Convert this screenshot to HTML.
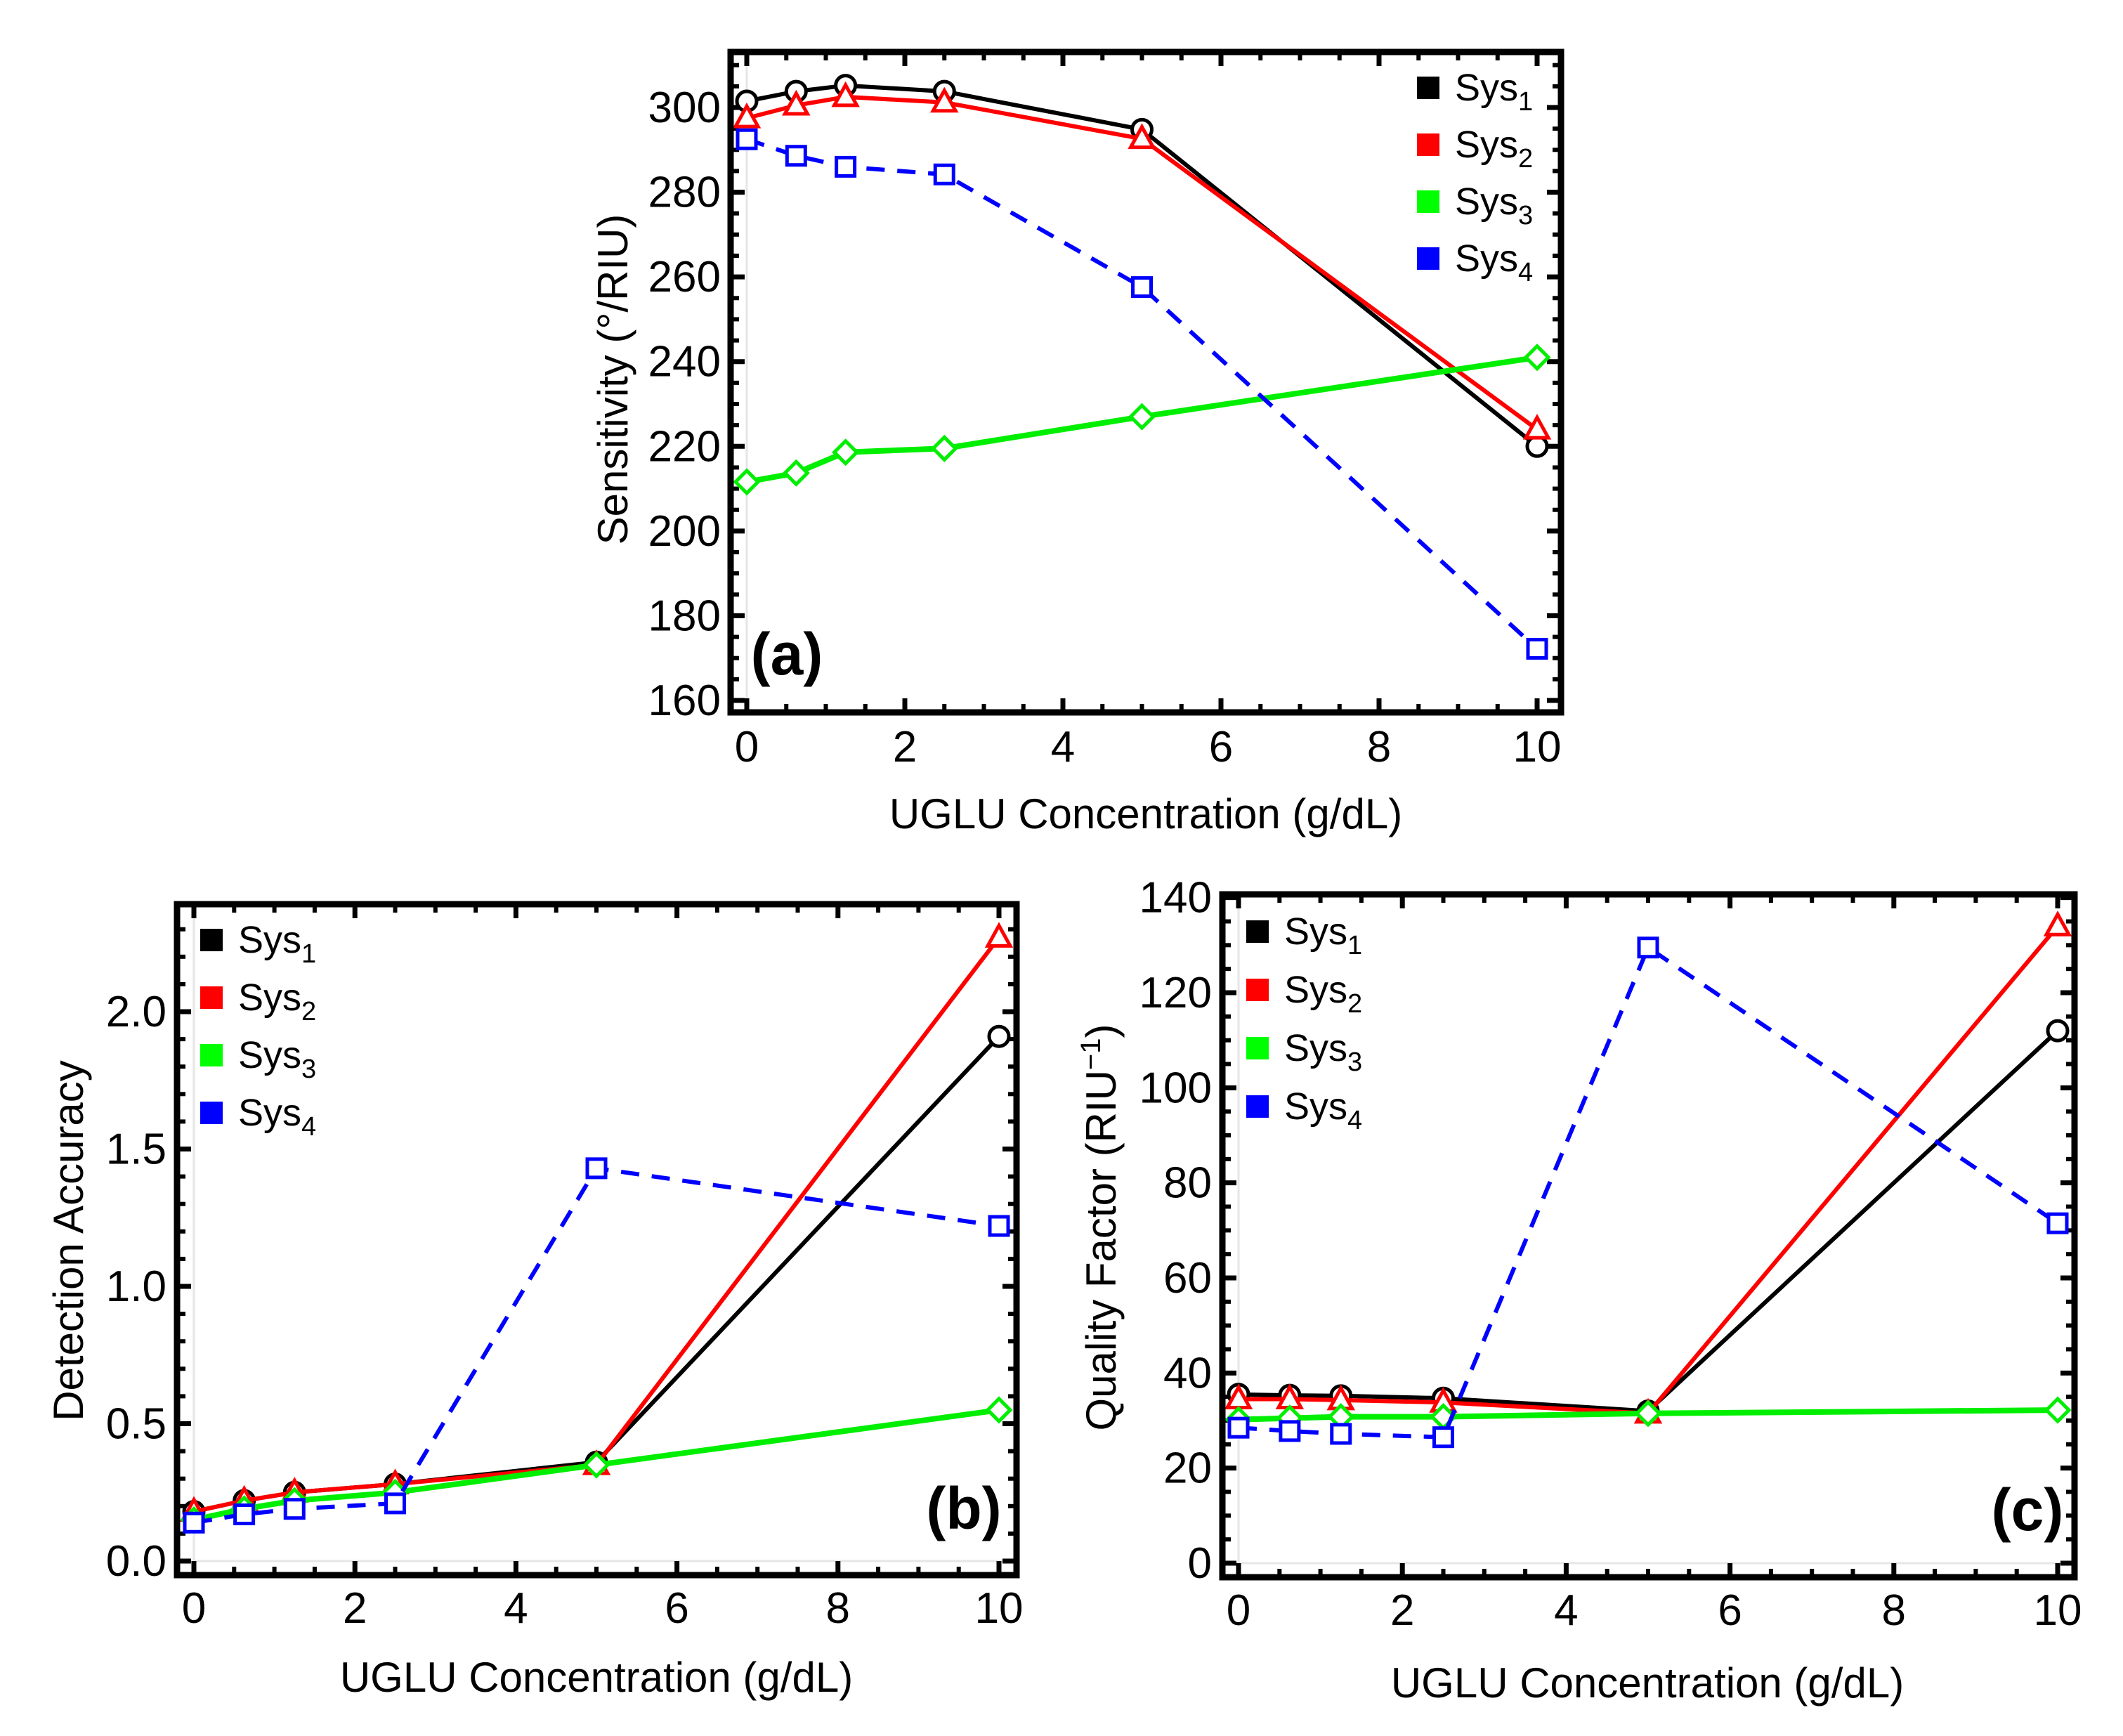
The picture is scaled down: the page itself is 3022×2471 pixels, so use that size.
<!DOCTYPE html>
<html><head><meta charset="utf-8"><style>
html,body{margin:0;padding:0;background:#fff;}
svg{display:block;font-family:"Liberation Sans",sans-serif;}
</style></head><body>
<svg id="fig" width="3022" height="2471" viewBox="0 0 3022 2471" xmlns="http://www.w3.org/2000/svg"></svg>
<script>
const xValues = [0, 0.625, 1.25, 2.5, 5, 10];
const seriesNames = ["Sys1","Sys2","Sys3","Sys4"];
// Panel (a) Sensitivity
const aSys1 = [301.5, 303.8, 305.2, 303.8, 294.8, 220];
const aSys2 = [297.5, 300.5, 302.5, 301.2, 292.6, 224];
const aSys3 = [211.6, 213.7, 218.6, 219.5, 227, 241];
const aSys4 = [292.5, 288.6, 286, 284.2, 257.6, 172.2];
const aYTicks = [160,180,200,220,240,260,280,300];
// Panel (b) Detection Accuracy
const bSys1 = [0.18, 0.22, 0.25, 0.28, 0.36, 1.91];
const bSys2 = [0.18, 0.22, 0.25, 0.28, 0.35, 2.27];
const bSys3 = [0.15, 0.19, 0.22, 0.25, 0.35, 0.55];
const bSys4 = [0.14, 0.17, 0.19, 0.21, 1.43, 1.22];
const bYTicks = ["0.0","0.5","1.0","1.5","2.0"];
// Panel (c) Quality Factor
const cSys1 = [35.5, 35.3, 35.2, 34.7, 32, 112];
const cSys2 = [34.5, 34.5, 34.3, 33.8, 31.5, 134];
const cSys3 = [30.2, 30.5, 30.8, 30.8, 31.5, 32.2];
const cSys4 = [28.5, 27.8, 27.2, 26.5, 129.5, 71.5];
const cYTicks = [0,20,40,60,80,100,120,140];
const xTicks = [0,2,4,6,8,10];

const NS = "http://www.w3.org/2000/svg";
const svg = document.getElementById('fig');
function mk(tag, attrs, parent){
  const e = document.createElementNS(NS, tag);
  for (const k in attrs) e.setAttribute(k, attrs[k]);
  (parent||svg).appendChild(e);
  return e;
}
const colors = ["#000000","#ff0000","#00ee00","#0000ff"];
const widths = [6,6,8,6];

function panel(cfg){
  const g = mk('g', {});
  
  
  const X = v => cfg.x0 + (v - 0) * (cfg.x10 - cfg.x0) / 10;
  const Y = v => cfg.yA + (v - cfg.vA) * (cfg.yB - cfg.yA) / (cfg.vB - cfg.vA);
  const ax = mk('line', {x1:X(0), x2:X(0), y1:cfg.T, y2:cfg.B, stroke:'#e6e6e6','stroke-width':3}, g);
   
  if (cfg.vMin === 0) {
    const ax2 = mk('line', {x1:cfg.L, x2:cfg.R, y1:Y(0), y2:Y(0), stroke:'#e6e6e6','stroke-width':3}, g);
     
  }
  const tk = mk('g', {stroke:'#000'}, g);
   
  for (let v = 0; v <= 10.001; v += 0.5) {
    const maj = Math.abs(v/2 - Math.round(v/2)) < 1e-6;
    const len = maj ? 20 : 12, w = maj ? 7 : 6;
    mk('line', {x1:X(v), x2:X(v), y1:cfg.B, y2:cfg.B-len, 'stroke-width':w}, tk);
    mk('line', {x1:X(v), x2:X(v), y1:cfg.T, y2:cfg.T+len, 'stroke-width':w}, tk);
  }
  for (let i = 0; ; i++) {
    const v = cfg.vMin + i*cfg.minor;
    if (v > cfg.vMax + 1e-9) break;
    const maj = Math.abs(((v - cfg.vMin)/cfg.major) - Math.round((v - cfg.vMin)/cfg.major)) < 1e-6;
    const len = maj ? 20 : 12, w = maj ? 7 : 6;
    mk('line', {x1:cfg.L, x2:cfg.L+len, y1:Y(v), y2:Y(v), 'stroke-width':w}, tk);
    mk('line', {x1:cfg.R, x2:cfg.R-len, y1:Y(v), y2:Y(v), 'stroke-width':w}, tk);
  }
  xTicks.forEach(v => {
    const t = mk('text', {x:X(v), y:cfg.xLabY, 'font-size':62, 'text-anchor':'middle', fill:'#000'}, g);
    t.textContent = v;
     
  });
  cfg.yTicks.forEach(s => {
    const t = mk('text', {x:cfg.yLabX, y:Y(parseFloat(s))+21, 'font-size':62, 'text-anchor':'end', fill:'#000'}, g);
    t.textContent = s;
     
  });
  cfg.series.forEach((vals, si) => {
    const sg = mk('g', {}, g);
    
    
    const pts = vals.map((v,i) => X(xValues[i]).toFixed(1)+','+Y(v).toFixed(1)).join(' ');
    const pl = mk('polyline', {points:pts, fill:'none', stroke:colors[si], 'stroke-width':widths[si], 'stroke-linejoin':'round'}, sg);
    if (si === 3) pl.setAttribute('stroke-dasharray','26 18');
    
    
    vals.forEach((v,i) => {
      const cx = X(xValues[i]), cy = Y(v);
      let m;
      if (si === 0) m = mk('circle', {cx:cx, cy:cy, r:14, fill:'#fff', stroke:'#000', 'stroke-width':5}, sg);
      else if (si === 1) m = mk('polygon', {points:`${cx},${cy-17} ${cx+16},${cy+12} ${cx-16},${cy+12}`, fill:'#fff', stroke:'#f00', 'stroke-width':5}, sg);
      else if (si === 2) m = mk('polygon', {points:`${cx},${cy-16} ${cx+16},${cy} ${cx},${cy+16} ${cx-16},${cy}`, fill:'#fff', stroke:'#00ee00', 'stroke-width':5}, sg);
      else m = mk('rect', {x:cx-13, y:cy-13, width:26, height:26, fill:'#fff', stroke:'#00f', 'stroke-width':5}, sg);
      
      
    });
  });
  const fr = mk('rect', {x:cfg.L, y:cfg.T, width:cfg.R-cfg.L, height:cfg.B-cfg.T, fill:'none', stroke:'#000', 'stroke-width':9}, g);
   
  const lg = mk('g', {}, g);
   
  seriesNames.forEach((n, i) => {
    const y = cfg.legY + i*cfg.legDy;
    const e = mk('g', {}, lg);
    
    
    mk('rect', {x:cfg.legX-16, y:y-16, width:32, height:32, fill:colors[i]==='#00ee00'?'#00ff00':colors[i]}, e);
    const t = mk('text', {x:cfg.legX+38, y:y+18, 'font-size':54, fill:'#000'}, e);
    t.textContent = 'Sys';
    const s = mk('tspan', {'font-size':38, dy:14}, t);
    s.textContent = String(i+1);
  });
  const pl = mk('text', {x:cfg.pX, y:cfg.pY+30, 'font-size':84, 'font-weight':'bold', 'text-anchor':'middle', fill:'#000'}, g);
  pl.textContent = cfg.plabel;
   
  const xt = mk('text', {x:cfg.xtX, y:cfg.xtY+21, 'font-size':60, 'text-anchor':'middle', fill:'#000'}, g);
  xt.textContent = 'UGLU Concentration (g/dL)';
   
  const yt = mk('text', {x:0, y:0, 'font-size':60, 'text-anchor':'middle', fill:'#000', transform:`translate(${cfg.ytX+21},${cfg.ytY}) rotate(-90)`}, g);
  yt.innerHTML = cfg.ytitle;
   
}

panel({name:'panel-a-sensitivity', L:1040, R:2222, T:74, B:1014, x0:1063, x10:2188,
  vA:300, yA:153, vB:160, yB:997, vMin:160, vMax:310, major:20, minor:5,
  yTicks:aYTicks, yLabX:1026, xLabY:1084,
  series:[aSys1,aSys2,aSys3,aSys4], legX:2033, legY:125, legDy:81,
  pX:1120, pY:930, plabel:'(a)', xtX:1631, xtY:1158, ytX:872, ytY:540,
  ytitle:'Sensitivity (°/RIU)'});

panel({name:'panel-b-detection-accuracy', L:252, R:1447, T:1287, B:2242, x0:276, x10:1422,
  vA:0, yA:2222, vB:2, yB:1440, vMin:0, vMax:2.3, major:0.5, minor:0.1,
  yTicks:bYTicks, yLabX:237, xLabY:2310,
  series:[bSys1,bSys2,bSys3,bSys4], legX:301, legY:1338, legDy:82,
  pX:1372, pY:2146, plabel:'(b)', xtX:849, xtY:2387, ytX:97, ytY:1766,
  ytitle:'Detection Accuracy'});

panel({name:'panel-c-quality-factor', L:1740, R:2953, T:1273, B:2245, x0:1763, x10:2929,
  vA:0, yA:2225, vB:120, yB:1413, vMin:0, vMax:140, major:20, minor:5,
  yTicks:cYTicks, yLabX:1725, xLabY:2313,
  series:[cSys1,cSys2,cSys3,cSys4], legX:1790, legY:1326, legDy:83,
  pX:2886, pY:2148, plabel:'(c)', xtX:2345, xtY:2395, ytX:1567, ytY:1747,
  ytitle:'Quality Factor (RIU<tspan font-size="40" dy="-22">−1</tspan><tspan dy="22">)</tspan>'});
</script>
</body></html>
